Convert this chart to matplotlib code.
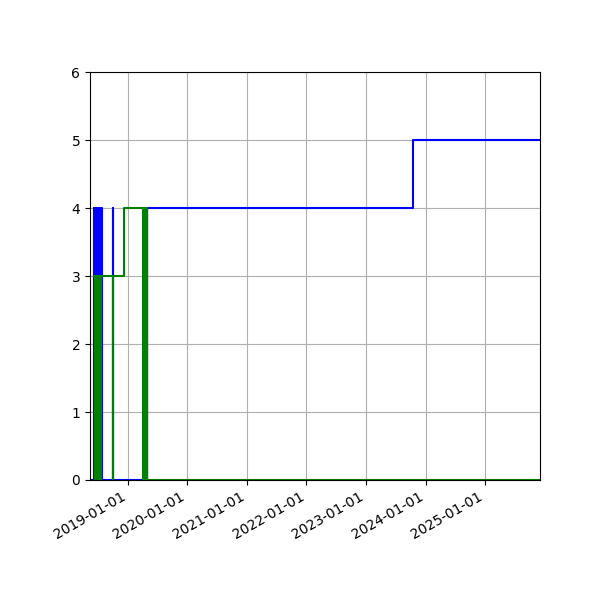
import pandas as pd
import matplotlib
matplotlib.use("Agg")
import matplotlib.pyplot as plt
import matplotlib.dates as mdates

blue_dates = ["2018-05-15", "2018-06-08", "2018-06-11", "2018-06-14", "2018-06-17",
              "2018-06-20", "2018-06-23", "2018-06-26", "2018-06-29", "2018-07-02",
              "2018-07-05", "2018-07-08", "2018-07-11", "2018-07-14", "2018-07-17",
              "2018-07-20", "2018-07-22", "2018-07-24", "2018-07-26", "2018-10-02",
              "2018-10-06", "2019-04-28", "2019-04-29", "2019-05-01", "2023-10-17",
              "2025-12-03"]
blue_vals = [0, 4, 0, 4, 0,
             4, 0, 4, 0, 4,
             0, 4, 0, 4, 0,
             4, 0, 4, 0, 4,
             0, 4, 0, 4, 5,
             5]

green_dates = ["2018-06-10", "2018-06-13", "2018-06-16", "2018-06-19", "2018-06-22",
               "2018-06-25", "2018-06-28", "2018-07-01", "2018-07-04", "2018-07-07",
               "2018-07-10", "2018-07-13", "2018-07-16", "2018-07-19", "2018-07-23",
               "2018-10-03", "2018-10-05", "2018-12-11", "2019-04-06", "2019-04-09",
               "2019-04-12", "2019-04-15", "2019-04-18", "2019-04-21", "2019-04-24",
               "2019-04-27", "2019-04-30", "2025-12-03"]
green_vals = [3, 0, 3, 0, 3,
              0, 3, 0, 3, 0,
              3, 0, 3, 0, 3,
              0, 3, 4, 0, 4,
              0, 4, 0, 4, 0,
              4, 0, 0]

bd = pd.to_datetime(blue_dates)
gd = pd.to_datetime(green_dates)

fig, ax = plt.subplots(figsize=(6, 6), dpi=100)
ax.step(bd, blue_vals, where="post", color="blue")
ax.step(gd, green_vals, where="post", color="green")

ax.set_xlim(bd[0], bd[-1])
ax.set_ylim(0, 6)
ax.xaxis.set_major_locator(mdates.YearLocator())
ax.xaxis.set_major_formatter(mdates.DateFormatter("%Y-%m-%d"))
ax.grid(True)
fig.autofmt_xdate()
plt.subplots_adjust(left=0.15, right=0.9, top=0.88, bottom=0.2)
plt.savefig("out.png")
